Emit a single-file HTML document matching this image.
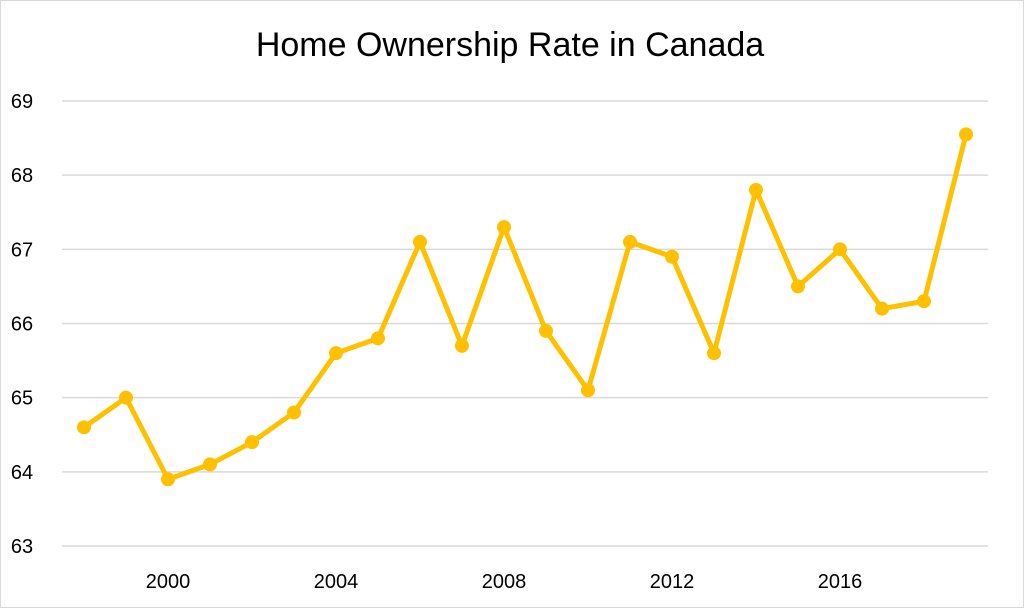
<!DOCTYPE html>
<html><head><meta charset="utf-8"><style>
body{margin:0;background:#fff;}
svg{display:block;font-family:"Liberation Sans",Calibri,sans-serif;}
</style></head><body>
<svg id="chart" width="1024" height="608">
<rect x="0.5" y="0.5" width="1023" height="607" fill="#fff" stroke="#d9d9d9"/>
<text x="510" y="56" font-size="34" text-anchor="middle" fill="#000">Home Ownership Rate in Canada</text>
<g id="grid"></g><g id="ylab"></g><g id="xlab"></g><g id="series"></g>
</svg>
<script>
const years=[1998,1999,2000,2001,2002,2003,2004,2005,2006,2007,2008,2009,2010,2011,2012,2013,2014,2015,2016,2017,2018,2019];
const rates=[64.6,65.0,63.9,64.1,64.4,64.8,65.6,65.8,67.1,65.7,67.3,65.9,65.1,67.1,66.9,65.6,67.8,66.5,67.0,66.2,66.3,68.55];
const yTicks=[63,64,65,66,67,68,69];
const xTicks=[2000,2004,2008,2012,2016];
const NS="http://www.w3.org/2000/svg";
function y(v){return 546-(v-63)*(546-101)/6;}
function x(yr){return 84+(yr-1998)*42;}
function mk(t,a,p){const e=document.createElementNS(NS,t);for(const k in a)e.setAttribute(k,a[k]);p.appendChild(e);return e;}
const grid=document.getElementById('grid'),yl=document.getElementById('ylab'),xl=document.getElementById('xlab'),s=document.getElementById('series');
yTicks.forEach(v=>{
 const l=mk('line',{x1:62,x2:988,y1:y(v),y2:y(v),stroke:'#d9d9d9','stroke-width':1.5},grid);
 
 
 const t=mk('text',{x:22,y:y(v)+7,'font-size':20,'text-anchor':'middle',fill:'#000'},yl);
 t.textContent=v;
 
 
});
xTicks.forEach(v=>{
 const t=mk('text',{x:x(v),y:588,'font-size':20,'text-anchor':'middle',fill:'#000'},xl);
 t.textContent=v;
 
 
});
const pts=years.map((yr,i)=>x(yr)+','+y(rates[i])).join(' ');
const pl=mk('polyline',{points:pts,fill:'none',stroke:'#FFC000','stroke-width':5,'stroke-linejoin':'round'},s);


years.forEach((yr,i)=>{
 const c=mk('circle',{cx:x(yr),cy:y(rates[i]),r:7,fill:'#FFC000'},s);
 
 
});
</script>
</body></html>
